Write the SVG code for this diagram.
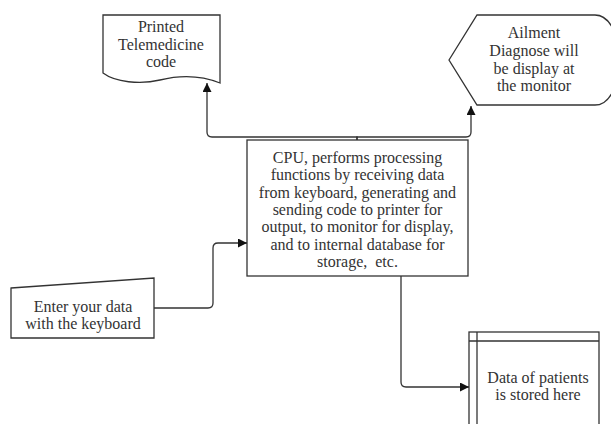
<svg xmlns="http://www.w3.org/2000/svg" width="611" height="424" viewBox="0 0 611 424">
<style>
.s{fill:#fff;stroke:#333;stroke-width:1.3}
.t{font-family:"Liberation Serif",serif;font-size:16px;fill:#333;text-anchor:middle}
.c{fill:none;stroke:#333;stroke-width:1.3}
</style>
<defs>
<marker id="a" viewBox="0 0 10 10" refX="10" refY="5" markerWidth="9" markerHeight="9" markerUnits="userSpaceOnUse" orient="auto">
<path d="M0,0 L10,5 L0,10 Z" fill="#111"/>
</marker>
</defs>
<rect width="611" height="424" fill="#fff"/>
<g id="printed">
<path class="s" d="M103,15 L220,15 L220,83 C200,75 180,75 160,80 C140,85 115,82 103,73 Z"/>
<text class="t" x="161" y="32">Printed</text>
<text class="t" x="161" y="50">Telemedicine</text>
<text class="t" x="161" y="67">code</text>
</g>
<g id="monitor">
<path class="s" d="M449,60 L477,15 L595,15 C627,15 627,105 595,105 L477,105 Z"/>
<text class="t" x="534" y="38">Ailment</text>
<text class="t" x="534" y="56">Diagnose will</text>
<text class="t" x="534" y="74">be display at</text>
<text class="t" x="534" y="91">the monitor</text>
</g>
<g id="cpu">
<rect class="s" x="247" y="140" width="221" height="136"/>
<text class="t" x="357.500" y="163">CPU, performs processing</text>
<text class="t" x="357.500" y="180">functions by receiving data</text>
<text class="t" x="357.500" y="198">from keyboard, generating and</text>
<text class="t" x="357.500" y="215">sending code to printer for</text>
<text class="t" x="357.500" y="232">output, to monitor for display,</text>
<text class="t" x="357.500" y="250">and to internal database for</text>
<text class="t" x="357.500" y="267">storage,&#160; etc.</text>
</g>
<g id="keyboard">
<path class="s" d="M11,288 L154,278 L154,338 L11,338 Z"/>
<text class="t" x="83" y="312">Enter your data</text>
<text class="t" x="83" y="329">with the keyboard</text>
</g>
<g id="database">
<rect class="s" x="469" y="332" width="130" height="100"/>
<line class="c" x1="477" y1="332" x2="477" y2="432"/>
<line class="c" x1="469" y1="341" x2="599" y2="341"/>
<text class="t" x="538" y="383">Data of patients</text>
<text class="t" x="538" y="400">is stored here</text>
</g>
<g id="connectors">
<path class="c" marker-end="url(#a)" d="M357,140 L357,137 L212,137 Q207,137 207,132 L207,83"/>
<path class="c" marker-end="url(#a)" d="M357,140 L357,137 L466,137 Q471,137 471,132 L471,106"/>
<path class="c" marker-end="url(#a)" d="M154,308 L208,308 Q213,308 213,303 L213,248 Q213,243 218,243 L247,243"/>
<path class="c" marker-end="url(#a)" d="M401,276 L401,382 Q401,387 406,387 L469,387"/>
</g>
</svg>
